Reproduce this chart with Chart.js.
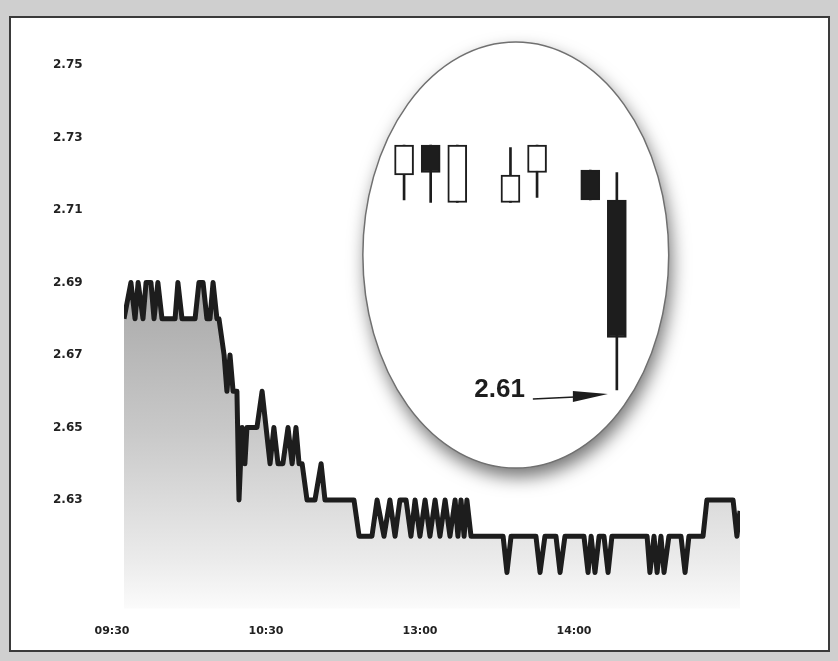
<!DOCTYPE html>
<html>
<head>
<meta charset="utf-8">
<script src="https://cdn.jsdelivr.net/npm/chart.js@4.4.0/dist/chart.umd.min.js"></script>
<style>
  html, body { margin: 0; padding: 0; background: #cfcfcf; }
  canvas { display: block; }
</style>
</head>
<body>
<canvas id="priceChart" width="838" height="661"></canvas>
<script>
// minutes since the 09:30 open (lunch break left out, 240 = close)
const minutes = [
  0, 2.7, 4.3, 5.5, 7.4, 8.6, 10.5, 11.7, 13.2, 14.8, 19.9, 21, 22.6, 27.7, 29.2, 30.8, 32.3, 33.5, 34.7, 36.2, 37,
  39, 40.1, 41.3, 42.5, 44, 44.8, 46, 47.1, 47.9, 51.8, 53.8, 56.9, 58.4, 60, 61.9, 63.9, 65.5, 67, 68.2, 69.4,
  71.3, 74.4, 76.8, 78.3, 89.6, 91.6, 96.6,
  98.6, 101.3, 103.6, 105.6, 107.5, 109.9, 111.8, 113.4, 115.3, 117.3, 119.2, 121.2, 123.1, 125.1, 127, 129,
  130.1, 131.3, 132.5, 133.6, 135.2,
  147.7, 149.2, 150.8, 160.5, 162.1, 164, 168.3, 169.9, 171.8, 179.2, 180.8, 182, 183.5, 185.1, 187, 188.6, 190.1,
  203.8, 204.9, 206.5, 207.7, 209.2, 210.4, 212.3, 217, 218.6, 220.1, 225.6, 227.1, 237.3, 238.8, 240
];
const prices = [
  2.68, 2.69, 2.68, 2.69, 2.68, 2.69, 2.69, 2.68, 2.69, 2.68, 2.68, 2.69, 2.68, 2.68, 2.69, 2.69, 2.68, 2.68, 2.69, 2.68, 2.68,
  2.67, 2.66, 2.67, 2.66, 2.66, 2.63, 2.65, 2.64, 2.65, 2.65, 2.66, 2.64, 2.65, 2.64, 2.64, 2.65, 2.64, 2.65, 2.64, 2.64,
  2.63, 2.63, 2.64, 2.63, 2.63, 2.62, 2.62,
  2.63, 2.62, 2.63, 2.62, 2.63, 2.63, 2.62, 2.63, 2.62, 2.63, 2.62, 2.63, 2.62, 2.63, 2.62, 2.63,
  2.62, 2.63, 2.62, 2.63, 2.62,
  2.62, 2.61, 2.62, 2.62, 2.61, 2.62, 2.62, 2.61, 2.62, 2.62, 2.61, 2.62, 2.61, 2.62, 2.62, 2.61, 2.62,
  2.62, 2.61, 2.62, 2.61, 2.62, 2.61, 2.62, 2.62, 2.61, 2.62, 2.62, 2.63, 2.63, 2.62, 2.627
];

const yTicks = [2.63, 2.65, 2.67, 2.69, 2.71, 2.73, 2.75];
const xTickMinutes = [0, 60, 120, 180];
const xTickLabels = ['09:30', '10:30', '13:00', '14:00'];

// candles in the round inset (slots 3 and 6 are empty)
const candleSlots = [0, 1, 2, 4, 5, 7, 8];
const candleOpen  = [2.696, 2.708, 2.685, 2.685, 2.697, 2.698, 2.686];
const candleClose = [2.708, 2.697, 2.708, 2.696, 2.708, 2.686, 2.631];
const candleHigh  = [2.708, 2.708, 2.708, 2.707, 2.708, 2.698, 2.697];
const candleLow   = [2.686, 2.685, 2.685, 2.685, 2.687, 2.686, 2.61];
const lowLabel = '2.61';

const ink = '#1d1d1d';

const framePlugin = {
  id: 'frame',
  beforeDraw(chart) {
    const c = chart.ctx;
    c.save();
    c.fillStyle = '#cfcfcf';
    c.fillRect(0, 0, chart.width, chart.height);
    c.fillStyle = '#ffffff';
    c.fillRect(10, 17, 819, 634);
    c.strokeStyle = '#3a3a3a';
    c.lineWidth = 2;
    c.strokeRect(10, 17, 819, 634);
    c.restore();
  }
};

const insetPlugin = {
  id: 'inset',
  beforeDatasetsDraw(chart) {
    const sx = chart.scales.x2, sy = chart.scales.y2, c = chart.ctx;
    const cx = sx.getPixelForValue(4.2), cy = sy.getPixelForValue(2.664);
    const rx = sx.getPixelForValue(4.2 + 5.75) - cx;
    const ry = sy.getPixelForValue(2.664 - 0.0852) - cy;
    c.save();
    c.beginPath();
    c.ellipse(cx, cy, rx, ry, 0, 0, Math.PI * 2);
    c.shadowColor = 'rgba(0,0,0,0.55)';
    c.shadowBlur = 18;
    c.shadowOffsetX = 3;
    c.shadowOffsetY = 9;
    c.fillStyle = '#ffffff';
    c.fill();
    c.shadowColor = 'transparent';
    c.strokeStyle = '#707070';
    c.lineWidth = 1.5;
    c.stroke();
    c.restore();
  },
  afterDatasetsDraw(chart) {
    const sx = chart.scales.x2, sy = chart.scales.y2, c = chart.ctx;
    const last = candleSlots.length - 1;
    const ax = sx.getPixelForValue(candleSlots[last]);
    const ay = sy.getPixelForValue(candleLow[last]);
    c.save();
    c.fillStyle = ink;
    c.font = 'bold 26px "Liberation Sans", Arial, sans-serif';
    c.textAlign = 'right';
    c.textBaseline = 'middle';
    c.fillText(lowLabel, ax - 92, ay);
    c.strokeStyle = ink;
    c.lineWidth = 1.5;
    c.beginPath();
    c.moveTo(ax - 84, ay + 9);
    c.lineTo(ax - 42, ay + 7);
    c.stroke();
    c.beginPath();
    c.moveTo(ax - 44, ay + 1);
    c.lineTo(ax - 9, ay + 4);
    c.lineTo(ax - 44, ay + 12);
    c.closePath();
    c.fill();
    c.restore();
  }
};

Chart.defaults.font.family = '"DejaVu Sans", sans-serif';
Chart.defaults.font.weight = 'bold';

new Chart(document.getElementById('priceChart'), {
  type: 'line',
  data: {
    datasets: [
      {
        type: 'line',
        data: minutes.map((m, i) => ({ x: m, y: prices[i] })),
        xAxisID: 'x',
        yAxisID: 'y',
        order: 3,
        borderColor: ink,
        borderWidth: 5,
        borderJoinStyle: 'round',
        pointRadius: 0,
        tension: 0,
        fill: 'start',
        backgroundColor: (ctx) => {
          const area = ctx.chart.chartArea;
          if (!area) return '#c0c0c0';
          const top = ctx.chart.scales.y.getPixelForValue(Math.max(...prices));
          const g = ctx.chart.ctx.createLinearGradient(0, top, 0, area.bottom);
          g.addColorStop(0, '#a8a8a8');
          g.addColorStop(0.45, '#c8c8c8');
          g.addColorStop(0.85, '#ebebeb');
          g.addColorStop(1, '#fbfbfb');
          return g;
        }
      },
      {
        type: 'bar',
        data: candleSlots.map((s, i) => ({ x: s, y: [candleLow[i], candleHigh[i]] })),
        xAxisID: 'x2',
        yAxisID: 'y2',
        order: 2,
        grouped: false,
        barThickness: 2,
        backgroundColor: ink,
        borderWidth: 0
      },
      {
        type: 'bar',
        data: candleSlots.map((s, i) => ({ x: s, y: [candleOpen[i], candleClose[i]] })),
        xAxisID: 'x2',
        yAxisID: 'y2',
        order: 1,
        grouped: false,
        barThickness: 19,
        backgroundColor: candleOpen.map((o, i) => candleClose[i] >= o ? '#ffffff' : ink),
        borderColor: ink,
        borderWidth: 2,
        borderSkipped: false
      }
    ]
  },
  options: {
    responsive: false,
    animation: false,
    devicePixelRatio: 1,
    layout: { padding: { left: 53, top: 65, right: 98, bottom: 0 } },
    plugins: { legend: { display: false }, tooltip: { enabled: false } },
    scales: {
      x: {
        type: 'linear',
        min: 0,
        max: 240,
        grid: { display: false, drawTicks: false },
        border: { display: false },
        afterBuildTicks: (s) => { s.ticks = xTickMinutes.map(v => ({ value: v })); },
        afterFit: (s) => { s.height = 52.25; },
        ticks: {
          padding: 16,
          labelOffset: -12,
          maxRotation: 0,
          autoSkip: false,
          color: '#222',
          font: { size: 11, weight: 'bold' },
          callback: (v, i) => xTickLabels[i]
        }
      },
      y: {
        type: 'linear',
        min: 2.60,
        max: 2.75,
        grid: { display: false, drawTicks: false },
        border: { display: false },
        afterBuildTicks: (s) => { s.ticks = yTicks.map(v => ({ value: v })); },
        afterFit: (s) => { s.width = 71; },
        ticks: {
          crossAlign: 'far',
          padding: 0,
          color: '#222',
          font: { size: 12, weight: 'bold' },
          callback: (v) => v.toFixed(2)
        }
      },
      x2: { type: 'linear', display: false, offset: false, min: -10.53, max: 12.63 },
      y2: { type: 'linear', display: false, min: 2.5225, max: 2.74 }
    }
  },
  plugins: [framePlugin, insetPlugin]
});
</script>
</body>
</html>
